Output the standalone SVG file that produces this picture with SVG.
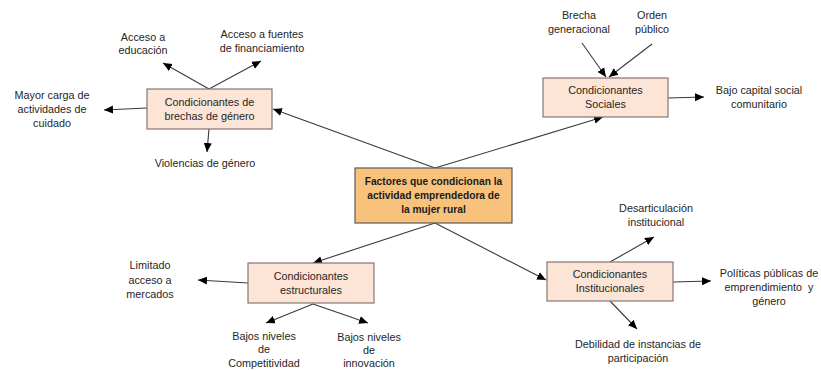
<svg xmlns="http://www.w3.org/2000/svg" width="821" height="371" viewBox="0 0 821 371">
<defs>
<marker id="ah" markerUnits="userSpaceOnUse" markerWidth="10" markerHeight="10" viewBox="0 0 10 10" refX="9" refY="5" orient="auto">
<path d="M0,1 L9,5 L0,9 z" fill="#000"/>
</marker>
</defs>
<style>
.box{fill:#FCE4D6;stroke:#857672;stroke-width:1.2}
.main{fill:#F9C27C;stroke:#5a5a5a;stroke-width:1.2}
.t{font-family:"Liberation Sans",Arial,sans-serif;font-size:10.8px;fill:#262626;text-anchor:middle}
.b{font-family:"Liberation Sans",Arial,sans-serif;font-size:10.2px;font-weight:bold;fill:#1a1a1a;text-anchor:middle}
.c line{stroke:#3a3a3a;stroke-width:1.1;marker-end:url(#ah)}
</style>
<rect width="821" height="371" fill="#fff"/>
<g class="c" id="connectors">
<line x1="435" y1="168" x2="273" y2="109"/>
<line x1="435" y1="168" x2="603" y2="117"/>
<line x1="435" y1="223" x2="313" y2="263"/>
<line x1="435" y1="223" x2="546" y2="280"/>
<line x1="209" y1="89" x2="163" y2="63"/>
<line x1="209" y1="89" x2="261" y2="61"/>
<line x1="147" y1="108" x2="104" y2="110"/>
<line x1="209" y1="129" x2="207" y2="152"/>
<line x1="582" y1="43" x2="606" y2="77"/>
<line x1="652" y1="44" x2="609" y2="77"/>
<line x1="668" y1="98" x2="704" y2="97"/>
<line x1="248" y1="283" x2="198" y2="280"/>
<line x1="313" y1="304" x2="266" y2="323"/>
<line x1="313" y1="304" x2="368" y2="323"/>
<line x1="610" y1="262" x2="654" y2="237"/>
<line x1="673" y1="282" x2="711" y2="281"/>
<line x1="610" y1="301" x2="637" y2="329"/>
</g>
<g id="main">
<rect class="main" x="355" y="168" width="157" height="55"/>
<text class="b" x="433.5" y="185">Factores que condicionan la</text>
<text class="b" x="433.5" y="199">actividad emprendedora de</text>
<text class="b" x="433.5" y="213">la mujer rural</text>
</g>
<g id="genero">
<rect class="box" x="147" y="89" width="125" height="40"/>
<text class="t" x="209.5" y="106">Condicionantes de</text>
<text class="t" x="209.5" y="120">brechas de género</text>
</g>
<g id="sociales">
<rect class="box" x="543" y="78" width="125" height="39"/>
<text class="t" x="605.5" y="94">Condicionantes</text>
<text class="t" x="605.5" y="108">Sociales</text>
</g>
<g id="estructurales">
<rect class="box" x="248" y="263" width="126" height="40"/>
<text class="t" x="311" y="280">Condicionantes</text>
<text class="t" x="311" y="294">estructurales</text>
</g>
<g id="institucionales">
<rect class="box" x="547" y="262" width="126" height="39"/>
<text class="t" x="610" y="278">Condicionantes</text>
<text class="t" x="610" y="292">Institucionales</text>
</g>
<g id="l-educacion">
<text class="t" x="143" y="41">Acceso a</text>
<text class="t" x="143" y="54">educación</text>
</g>
<g id="l-financiamiento">
<text class="t" x="262" y="38">Acceso a fuentes</text>
<text class="t" x="262" y="52">de financiamiento</text>
</g>
<g id="l-cuidado">
<text class="t" x="52" y="99">Mayor carga de</text>
<text class="t" x="52" y="113">actividades de</text>
<text class="t" x="52" y="127">cuidado</text>
</g>
<g id="l-violencias">
<text class="t" x="205" y="167">Violencias de género</text>
</g>
<g id="l-brecha">
<text class="t" x="579" y="19">Brecha</text>
<text class="t" x="579" y="33">generacional</text>
</g>
<g id="l-orden">
<text class="t" x="652" y="19">Orden</text>
<text class="t" x="652" y="33">público</text>
</g>
<g id="l-capital">
<text class="t" x="759" y="94">Bajo capital social</text>
<text class="t" x="759" y="108">comunitario</text>
</g>
<g id="l-mercados">
<text class="t" x="150" y="269">Limitado</text>
<text class="t" x="150" y="284">acceso a</text>
<text class="t" x="150" y="298">mercados</text>
</g>
<g id="l-competitividad">
<text class="t" x="264" y="340">Bajos niveles</text>
<text class="t" x="264" y="353">de</text>
<text class="t" x="264" y="367">Competitividad</text>
</g>
<g id="l-innovacion">
<text class="t" x="369" y="341">Bajos niveles</text>
<text class="t" x="369" y="354">de</text>
<text class="t" x="369" y="367">innovación</text>
</g>
<g id="l-desarticulacion">
<text class="t" x="656" y="212">Desarticulación</text>
<text class="t" x="656" y="226">institucional</text>
</g>
<g id="l-politicas">
<text class="t" x="769" y="277">Políticas públicas de</text>
<text class="t" x="769" y="291">emprendimiento&#160; y</text>
<text class="t" x="769" y="305">género</text>
</g>
<g id="l-debilidad">
<text class="t" x="638" y="348">Debilidad de instancias de</text>
<text class="t" x="638" y="362">participación</text>
</g>
</svg>
